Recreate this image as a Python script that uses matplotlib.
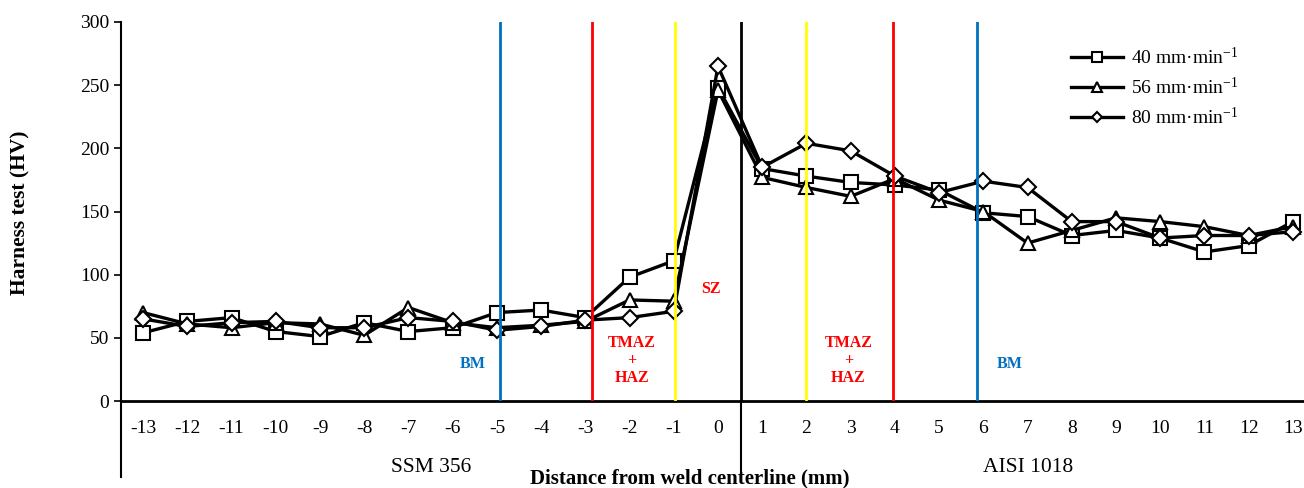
import matplotlib
matplotlib.use('Agg')
import matplotlib.pyplot as plt
import matplotlib.transforms as mtransforms

plt.rcParams['font.family'] = 'Liberation Serif'
plt.rcParams['mathtext.fontset'] = 'custom'
plt.rcParams['mathtext.rm'] = 'Liberation Serif'
plt.rcParams['mathtext.it'] = 'Liberation Serif:italic'

dist = list(range(-13, 14))
hv_40 = [54, 63, 66, 55, 51, 62, 55, 58, 70, 72, 66, 98, 111, 248,
         184, 178, 173, 171, 167, 149, 146, 131, 135, 129, 118, 123, 142]
hv_56 = [70, 61, 58, 62, 61, 52, 74, 62, 58, 60, 63, 80, 79, 246,
         177, 169, 162, 176, 159, 150, 125, 135, 145, 142, 138, 131, 138]
hv_80 = [65, 59, 62, 63, 58, 58, 66, 63, 56, 59, 64, 66, 71, 265,
         185, 204, 198, 178, 165, 174, 169, 142, 142, 129, 131, 131, 134]
labels = ['40 mm·min$^{-1}$', '56 mm·min$^{-1}$', '80 mm·min$^{-1}$']

# zone boundaries
zone_x = [-4.93, -2.85, -0.97, 0.52, 2.0, 3.96, 5.86]
zone_c = ['#0070C0', '#FF0000', '#FFFF00', '#000000', '#FFFF00', '#FF0000', '#0070C0']

fig = plt.figure(figsize=(13.04, 4.88), dpi=100)
ax = fig.add_axes([121/1304, 87/488, 1194/1304, 379/488])

for y, m, lab in zip([hv_40, hv_56, hv_80], ['s', '^', 'D'], labels):
    ms = 9.5 if m != 'D' else 8
    ax.plot(dist, y, color='black', lw=2.4, marker=m, ms=ms, mfc='white',
            mec='black', mew=1.5, label=lab, zorder=3)

for xv, c in zip(zone_x, zone_c):
    ax.plot([xv, xv], [0, 300], color=c, lw=2, zorder=4)

trans = mtransforms.blended_transform_factory(ax.transData, ax.transAxes)
ax.plot([0.52, 0.52], [0, -0.2], color='black', lw=1.5, transform=trans, clip_on=False)
ax.plot([-13.5, -13.5], [0, -0.2], color='black', lw=1.5, transform=trans, clip_on=False)

ax.set_xlim(-13.5, 13.5)
ax.set_ylim(0, 300)
ax.set_yticks(range(0, 301, 50))
ax.set_xticks(dist)
ax.set_xticklabels([str(d) for d in dist])
ax.tick_params(axis='x', length=0, labelsize=14, pad=14)
ax.tick_params(axis='y', direction='out', length=5, width=1.2, labelsize=14)
ax.spines['top'].set_visible(False)
ax.spines['right'].set_visible(False)
ax.spines['left'].set_linewidth(1.5)
ax.spines['bottom'].set_linewidth(2)

txt = dict(fontsize=11.5, fontweight='bold', ha='center', va='center')
ax.text(-5.55, 29, 'BM', color='#0070C0', **txt)
ax.text(-1.95, 32, 'TMAZ\n+\nHAZ', color='#FF0000', linespacing=1.15, **txt)
ax.text(-0.15, 89, 'SZ', color='#FF0000', **txt)
ax.text(2.95, 32, 'TMAZ\n+\nHAZ', color='#FF0000', linespacing=1.15, **txt)
ax.text(6.6, 29, 'BM', color='#0070C0', **txt)

ax.text(-6.49, -0.175, 'SSM 356', transform=trans, fontsize=15.5, ha='center', va='center')
ax.text(7.01, -0.175, 'AISI 1018', transform=trans, fontsize=15.5, ha='center', va='center')

fig.text(690/1304, 1 - 478/488, 'Distance from weld centerline (mm)', fontsize=15,
         fontweight='bold', ha='center', va='center')
fig.text(20/1304, 1 - 213/488, 'Harness test (HV)', fontsize=15.5, fontweight='bold',
         rotation=90, ha='center', va='center')

ax.legend(loc='upper left', bbox_to_anchor=(1053/1304, 1 - 29/488), bbox_transform=fig.transFigure,
          frameon=False, fontsize=14, handlelength=2.7, labelspacing=0.45, handletextpad=0.4,
          markerscale=0.7)

fig.savefig('out.png', dpi=100)
